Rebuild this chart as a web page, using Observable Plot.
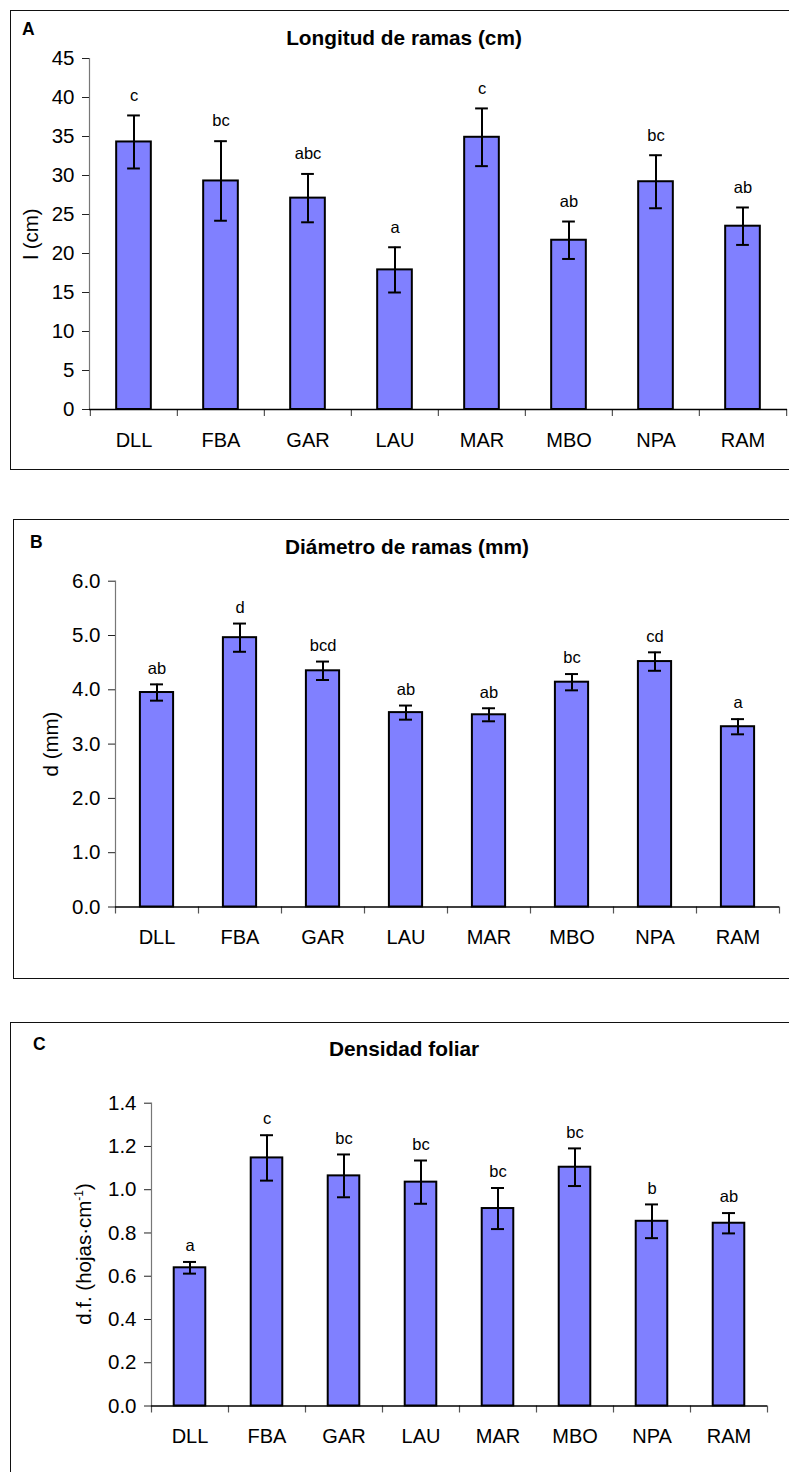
<!DOCTYPE html>
<html>
<head>
<meta charset="utf-8">
<script src="https://cdn.jsdelivr.net/npm/d3@7"></script>
<script src="https://cdn.jsdelivr.net/npm/@observablehq/plot@0.6"></script>
<style>
  html, body { margin: 0; padding: 0; background: #fff; }
  body { width: 789px; height: 1472px; overflow: hidden; position: relative;
         font-family: "Liberation Sans", Arial, sans-serif; color: #000; }
  .frame { position: absolute; border: 1.5px solid #111; box-sizing: border-box; }
  .chart { position: absolute; left: 0; }
  .letter { position: absolute; font-weight: bold; font-size: 17.5px; transform: translateY(-50%); }
  .title { position: absolute; font-weight: bold; font-size: 20.8px; white-space: nowrap;
           transform: translate(-50%, -50%); }
  .ylab { position: absolute; font-size: 20.5px; white-space: nowrap;
          transform: translate(-50%, -50%) rotate(-90deg); }
  .ylab sup { font-size: 12px; }
</style>
</head>
<body>
<script>
// Sites sampled
const sites = ["DLL", "FBA", "GAR", "LAU", "MAR", "MBO", "NPA", "RAM"];

// A: branch length (cm), mean ± error and significance groups
const longitudMean = [34.3, 29.3, 27.1, 17.9, 34.9, 21.7, 29.2, 23.5];
const longitudErr = [3.4, 5.1, 3.1, 2.9, 3.7, 2.4, 3.4, 2.4];
const longitudGroups = ["c", "bc", "abc", "a", "c", "ab", "bc", "ab"];
const longitudTicks = [0, 5, 10, 15, 20, 25, 30, 35, 40, 45];

// B: branch diameter (mm)
const diametroMean = [3.95, 4.96, 4.35, 3.58, 3.54, 4.14, 4.52, 3.32];
const diametroErr = [0.15, 0.26, 0.17, 0.13, 0.12, 0.15, 0.17, 0.14];
const diametroGroups = ["ab", "d", "bcd", "ab", "ab", "bc", "cd", "a"];
const diametroTicks = [0, 1, 2, 3, 4, 5, 6];

// C: leaf density (leaves per cm)
const densidadMean = [0.639, 1.147, 1.064, 1.035, 0.913, 1.104, 0.854, 0.845];
const densidadErr = [0.027, 0.105, 0.099, 0.100, 0.095, 0.087, 0.078, 0.047];
const densidadGroups = ["a", "c", "bc", "bc", "bc", "bc", "b", "ab"];
const densidadTicks = [0, 0.2, 0.4, 0.6, 0.8, 1.0, 1.2, 1.4];

const FONT = "'Liberation Sans', Arial, sans-serif";
const W = 789;

function addDiv(cls, html, style) {
  const d = document.createElement("div");
  d.className = cls;
  d.innerHTML = html;
  Object.assign(d.style, style);
  document.body.appendChild(d);
  return d;
}

function panel(cfg) {
  const rows = sites.map((s, i) => ({
    site: s, mean: cfg.mean[i], err: cfg.err[i], group: cfg.groups[i]
  }));
  const bw = (W - cfg.marginLeft - cfg.marginRight) / sites.length;
  const barInset = bw * (1 - cfg.barFrac) / 2;
  const capInset = (bw - 13) / 2;

  // frame box, letter, title and y label
  addDiv("frame", "", {left: cfg.frame[0] + "px", top: cfg.frame[1] + "px",
    width: (820 - cfg.frame[0]) + "px", height: cfg.frame[2] + "px"});
  addDiv("letter", cfg.letter, {left: cfg.letterPos[0] + "px", top: cfg.letterPos[1] + "px"});
  addDiv("title", cfg.title, {left: cfg.titlePos[0] + "px", top: cfg.titlePos[1] + "px"});
  addDiv("ylab", cfg.ylabel, {left: cfg.ylabelX + "px",
    top: cfg.top + (cfg.marginTop + cfg.height - cfg.marginBottom) / 2 + "px"});

  const chart = Plot.plot({
    width: W,
    height: cfg.height,
    marginLeft: cfg.marginLeft,
    marginRight: cfg.marginRight,
    marginTop: cfg.marginTop,
    marginBottom: cfg.marginBottom,
    style: {fontFamily: FONT, color: "#000", background: "transparent", overflow: "visible"},
    x: {domain: sites, padding: 0},
    y: {domain: cfg.domain},
    marks: [
      Plot.barY(rows, {x: "site", y: "mean", fill: "#8080ff", stroke: "#000", strokeWidth: 2,
        insetLeft: barInset, insetRight: barInset}),
      Plot.ruleX(rows, {x: "site", y1: d => d.mean - d.err, y2: d => d.mean + d.err,
        stroke: "#000", strokeWidth: 2}),
      Plot.tickY(rows, {x: "site", y: d => d.mean + d.err, stroke: "#000", strokeWidth: 2,
        insetLeft: capInset, insetRight: capInset}),
      Plot.tickY(rows, {x: "site", y: d => d.mean - d.err, stroke: "#000", strokeWidth: 2,
        insetLeft: capInset, insetRight: capInset}),
      Plot.text(rows, {x: "site", y: d => d.mean + d.err, text: "group", dy: -cfg.labelGap,
        fontSize: 16.5, fill: "#000"}),
      // category tick marks at band edges
      Plot.ruleX(sites, {x: d => d, dx: -bw / 2, y1: 0, y2: 0, insetBottom: -7,
        stroke: "#555", strokeWidth: 1.2}),
      Plot.ruleX(sites.slice(-1), {x: d => d, dx: bw / 2, y1: 0, y2: 0, insetBottom: -7,
        stroke: "#555", strokeWidth: 1.2}),
      Plot.frame({anchor: "left", stroke: "#777", strokeWidth: 1.2}),
      Plot.ruleY([0], {stroke: "#000", strokeWidth: 1.5}),
      Plot.axisY({ticks: cfg.ticks, tickFormat: cfg.format, tickSize: 7, tickPadding: 8,
        fontSize: 20.5, label: null, stroke: "#222"}),
      Plot.axisX({tickSize: 0, tickPadding: 23, fontSize: 20, label: null})
    ]
  });
  chart.classList.add("chart");
  chart.style.top = cfg.top + "px";
  document.body.appendChild(chart);
}

panel({
  mean: longitudMean, err: longitudErr, groups: longitudGroups, ticks: longitudTicks,
  domain: [0, 45], format: d3.format("d"),
  top: 0, height: 469, marginTop: 58, marginBottom: 60, marginLeft: 89, marginRight: 2,
  barFrac: 0.4, labelGap: 20,
  frame: [10, 10, 460], letter: "A", letterPos: [22, 29],
  title: "Longitud de ramas (cm)", titlePos: [404, 38],
  ylabel: "l (cm)", ylabelX: 31
});

panel({
  mean: diametroMean, err: diametroErr, groups: diametroGroups, ticks: diametroTicks,
  domain: [0, 6], format: d3.format(".1f"),
  top: 519, height: 459, marginTop: 61.7, marginBottom: 71.5, marginLeft: 115, marginRight: 10,
  barFrac: 0.4, labelGap: 16,
  frame: [13, 519, 460], letter: "B", letterPos: [30, 542],
  title: "Diámetro de ramas (mm)", titlePos: [407, 547],
  ylabel: "d (mm)", ylabelX: 51
});

panel({
  mean: densidadMean, err: densidadErr, groups: densidadGroups, ticks: densidadTicks,
  domain: [0, 1.4], format: d3.format(".1f"),
  top: 1022, height: 450, marginTop: 80.7, marginBottom: 66.5, marginLeft: 151, marginRight: 22,
  barFrac: 0.41, labelGap: 16,
  frame: [10, 1022, 480], letter: "C", letterPos: [33, 1044],
  title: "Densidad foliar", titlePos: [404, 1049],
  ylabel: "d.f. (hojas·cm<sup>-1</sup>)", ylabelX: 84
});
</script>
</body>
</html>
